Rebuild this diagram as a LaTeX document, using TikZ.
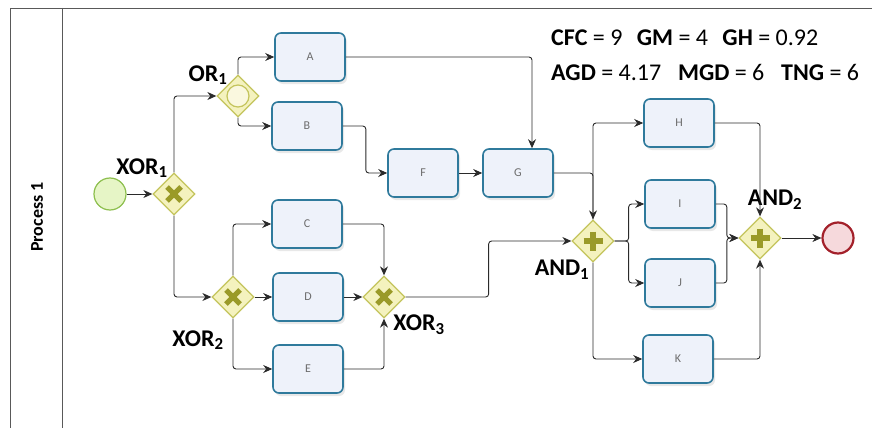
\documentclass[tikz,border=0pt]{standalone}
\usepackage{fontspec}
\setmainfont{Carlito}
\usepackage{xcolor}
\usepackage{tikz}
\usetikzlibrary{
  arrows.meta,
  positioning,
  shapes.geometric,
  shadows
}
\definecolor{taskline}{HTML}{2F7A9C}
\definecolor{taskfill}{HTML}{EEF2FA}
\definecolor{gateline}{HTML}{C4C45C}
\definecolor{gatefill}{HTML}{F4F2BE}
\definecolor{gatemark}{HTML}{9A9A28}
\definecolor{startline}{HTML}{8DBF4E}
\definecolor{startfill}{HTML}{E6F5C6}
\definecolor{endline}{HTML}{A3202A}
\definecolor{endfill}{HTML}{F6D9DC}
\definecolor{flowline}{HTML}{2A2A2A}

\begin{document}
\begin{tikzpicture}[
  x=1pt, y=-1pt,
  task/.style={
    draw=taskline, fill=taskfill, rounded corners=6pt, line width=1.6pt,
    minimum width=70pt, minimum height=48pt, inner sep=0pt,
    font=\fontsize{12}{14}\selectfont, text=gray!85!black,
    drop shadow={opacity=0.18, shadow xshift=2pt, shadow yshift=-3pt}
  },
  gate/.style={
    diamond, draw=gateline, fill=gatefill, line width=1.3pt,
    minimum size=42pt, inner sep=0pt
  },
  gatemarker/.style={draw=gatemark, line width=5pt},
  startevent/.style={
    circle, draw=startline, fill=startfill, line width=1.2pt,
    minimum size=32pt, inner sep=0pt
  },
  endevent/.style={
    circle, draw=endline, fill=endfill, line width=2.2pt,
    minimum size=31pt, inner sep=0pt
  },
  flow/.style={
    draw=flowline, line width=0.9pt, rounded corners=3pt,
    -{Stealth[length=9pt, width=8pt]}
  },
  gatelabel/.style={font=\fontsize{24}{26}\selectfont\bfseries},
  metric/.style={font=\fontsize{24}{28}\selectfont, anchor=base west, inner sep=0pt},
  lane/.style={draw=gray!70!black, line width=0.9pt}
]
  \useasboundingbox (0,0) rectangle (872,428);

  \draw[lane] (872,8) -- (10,8) -- (10,428) (62,8) -- (62,428);
  \node[font=\fontsize{18}{20}\selectfont\bfseries, rotate=90] (lanetitle) at (37,217) {Process 1};

  \node[metric] (metrics1) at (551,46)
    {\textbf{CFC} = 9\hspace{0.6em}\textbf{GM} = 4\hspace{0.6em}\textbf{GH} = 0.92};
  \node[metric] (metrics2) at (551,81)
    {\textbf{AGD} = 4.17\hspace{0.7em}\textbf{MGD} = 6\hspace{0.7em}\textbf{TNG} = 6};

  \node[startevent] (startev) at (110,194) {};
  \node[endevent] (endev) at (838,238) {};

  \node[gate] (xor1) at (174,194) {};
  \node[gate] (or1) at (238,96) {};
  \node[gate] (xor2) at (233,297) {};
  \node[gate] (xor3) at (384,297) {};
  \node[gate] (and1) at (593,241) {};
  \node[gate] (and2) at (760,238) {};

  \foreach \g in {xor1,xor2,xor3}
    \draw[gatemarker] ([shift={(-7,-7)}]\g.center) -- ([shift={(7,7)}]\g.center)
                      ([shift={(-7,7)}]\g.center) -- ([shift={(7,-7)}]\g.center);
  \foreach \g in {and1,and2}
    \draw[gatemarker, line width=6pt] ([shift={(-9.5,0)}]\g.center) -- ([shift={(9.5,0)}]\g.center)
                      ([shift={(0,-9.5)}]\g.center) -- ([shift={(0,9.5)}]\g.center);
  \draw[draw=gateline, fill=gatefill!50!white, line width=1.2pt] (or1.center) circle[radius=11pt];

  \node[gatelabel] (lxor1) at (142,168) {XOR\textsubscript{1}};
  \node[gatelabel] (lor1) at (208,75) {OR\textsubscript{1}};
  \node[gatelabel] (lxor2) at (198,340) {XOR\textsubscript{2}};
  \node[gatelabel] (lxor3) at (419,325) {XOR\textsubscript{3}};
  \node[gatelabel] (land1) at (562,270) {AND\textsubscript{1}};
  \node[gatelabel] (land2) at (775,200) {AND\textsubscript{2}};

  \node[task] (A) at (310,57) {A};
  \node[task] (B) at (307,126) {B};
  \node[task] (C) at (307,224) {C};
  \node[task] (D) at (308,297) {D};
  \node[task] (E) at (308,369) {E};
  \node[task] (F) at (423,173) {F};
  \node[task] (G) at (518,173) {G};
  \node[task] (H) at (679,123) {H};
  \node[task] (I) at (680,204) {I};
  \node[task] (J) at (680,283) {J};
  \node[task] (K) at (678,359) {K};

  \draw[flow] (startev) -- (xor1);
  \draw[flow] (xor1.north) |- (or1.west);
  \draw[flow] (xor1.south) |- (xor2.west);
  \draw[flow] (or1.north) |- (A.west);
  \draw[flow] (or1.south) |- (B.west);
  \draw[flow] (A.east) -| ([xshift=14pt]G.north);
  \draw[flow] (B.east) -- ++(23,0) |- (F.west);
  \draw[flow] (F) -- (G);
  \draw[flow] (G.east) -| (and1.north);
  \draw[flow] (xor2.north) |- (C.west);
  \draw[flow] (xor2) -- (D);
  \draw[flow] (xor2.south) |- (E.west);
  \draw[flow] (C.east) -| (xor3.north);
  \draw[flow] (D) -- (xor3);
  \draw[flow] (E.east) -| (xor3.south);
  \draw[flow] (xor3.east) -- ++(83,0) |- (and1.west);
  \draw[flow] (and1.north) |- (H.west);
  \draw[flow] (and1.east) -- ++(14,0) |- (I.west);
  \draw[flow] (and1.east) -- ++(14,0) |- (J.west);
  \draw[flow] (and1.south) |- (K.west);
  \draw[flow] (H.east) -| (and2.north);
  \draw[flow] (I.east) -- ++(11,0) |- (and2.west);
  \draw[flow] (J.east) -- ++(11,0) |- (and2.west);
  \draw[flow] (K.east) -| (and2.south);
  \draw[flow] (and2) -- (endev);
\end{tikzpicture}
\end{document}
